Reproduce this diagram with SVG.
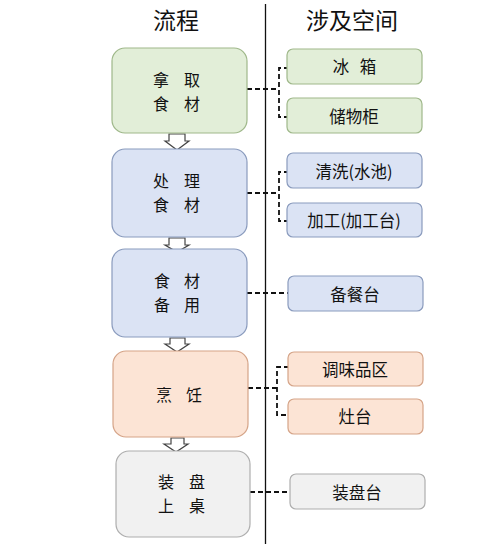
<svg xmlns="http://www.w3.org/2000/svg" width="494" height="544" viewBox="0 0 494 544">
<style>
text{font-family:"Noto Sans CJK SC","Noto Sans",sans-serif;fill:#111;text-anchor:middle;dominant-baseline:central}
.h{font-size:23px}
.l{font-size:16px}
.r{font-size:16.5px}
.g{fill:#e2eed8;stroke:#9fb88a;stroke-width:1.2}
.b{fill:#dbe3f4;stroke:#8a9bbd;stroke-width:1.2}
.o{fill:#fce4d5;stroke:#d5a488;stroke-width:1.2}
.w{fill:#f1f1f1;stroke:#aeaeae;stroke-width:1.2}
.c{fill:none;stroke:#111;stroke-width:1.8;stroke-dasharray:5 3}
.a{fill:#fff;stroke:#444;stroke-width:1.2}
</style>
<rect width="494" height="544" fill="#fff"/>
<g id="headers">
<text class="h" x="176" y="19">流程</text>
<text class="h" x="352" y="19">涉及空间</text>
<line x1="265.5" y1="4" x2="265.5" y2="544" stroke="#111" stroke-width="1.3"/>
</g>
<g id="connectors">
<path class="c" d="M247 89H279M289 68H279V117H289"/>
<path class="c" d="M247 193H279M289 172H279V221H289"/>
<path class="c" d="M247 293H288"/>
<path class="c" d="M248 388H277M289 367H277V415H289"/>
<path class="c" d="M250 492H290"/>
<path class="a" d="M169 134H185V141H189L177 150L165 141H169Z"/>
<path class="a" d="M169 238H185V245H189L177 252L165 245H169Z"/>
<path class="a" d="M170 338H185V344H189L177 352L165 344H170Z"/>
<path class="a" d="M171 438H184V444H188L176 452L164 444H171Z"/>
</g>
<g id="n1"><rect class="g" x="112" y="48" width="135" height="85" rx="13"/><text class="l" y="79"><tspan x="161">拿</tspan><tspan x="192">取</tspan></text><text class="l" y="103"><tspan x="161">食</tspan><tspan x="192">材</tspan></text></g>
<g id="n2"><rect class="b" x="112" y="149" width="135" height="88" rx="13"/><text class="l" y="180"><tspan x="161">处</tspan><tspan x="192">理</tspan></text><text class="l" y="204"><tspan x="161">食</tspan><tspan x="192">材</tspan></text></g>
<g id="n3"><rect class="b" x="112" y="249" width="135" height="88" rx="13"/><text class="l" y="280"><tspan x="162">食</tspan><tspan x="192">材</tspan></text><text class="l" y="304"><tspan x="162">备</tspan><tspan x="192">用</tspan></text></g>
<g id="n4"><rect class="o" x="113" y="351" width="135" height="86" rx="13"/><text class="l" y="394"><tspan x="164">烹</tspan><tspan x="194">饪</tspan></text></g>
<g id="n5"><rect class="w" x="116" y="451" width="134" height="86" rx="13"/><text class="l" y="481"><tspan x="166">装</tspan><tspan x="197">盘</tspan></text><text class="l" y="505"><tspan x="166">上</tspan><tspan x="197">桌</tspan></text></g>
<g id="s1"><rect class="g" x="287" y="49" width="135" height="35" rx="6"/><text class="r" y="66"><tspan x="341">冰</tspan><tspan x="368">箱</tspan></text></g>
<g id="s2"><rect class="g" x="287" y="98" width="135" height="35" rx="6"/><text class="r" x="354" y="116">储物柜</text></g>
<g id="s3"><rect class="b" x="287" y="153" width="135" height="35" rx="6"/><text class="r" x="354" y="171">清洗(水池)</text></g>
<g id="s4"><rect class="b" x="287" y="203" width="135" height="34" rx="6"/><text class="r" x="354" y="220">加工(加工台)</text></g>
<g id="s5"><rect class="b" x="288" y="276" width="135" height="35" rx="6"/><text class="r" x="355" y="294">备餐台</text></g>
<g id="s6"><rect class="o" x="288" y="352" width="135" height="34" rx="6"/><text class="r" x="355" y="369">调味品区</text></g>
<g id="s7"><rect class="o" x="288" y="399" width="135" height="35" rx="6"/><text class="r" x="355" y="416">灶台</text></g>
<g id="s8"><rect class="w" x="290" y="474" width="135" height="35" rx="6"/><text class="r" x="357" y="492">装盘台</text></g>
</svg>
